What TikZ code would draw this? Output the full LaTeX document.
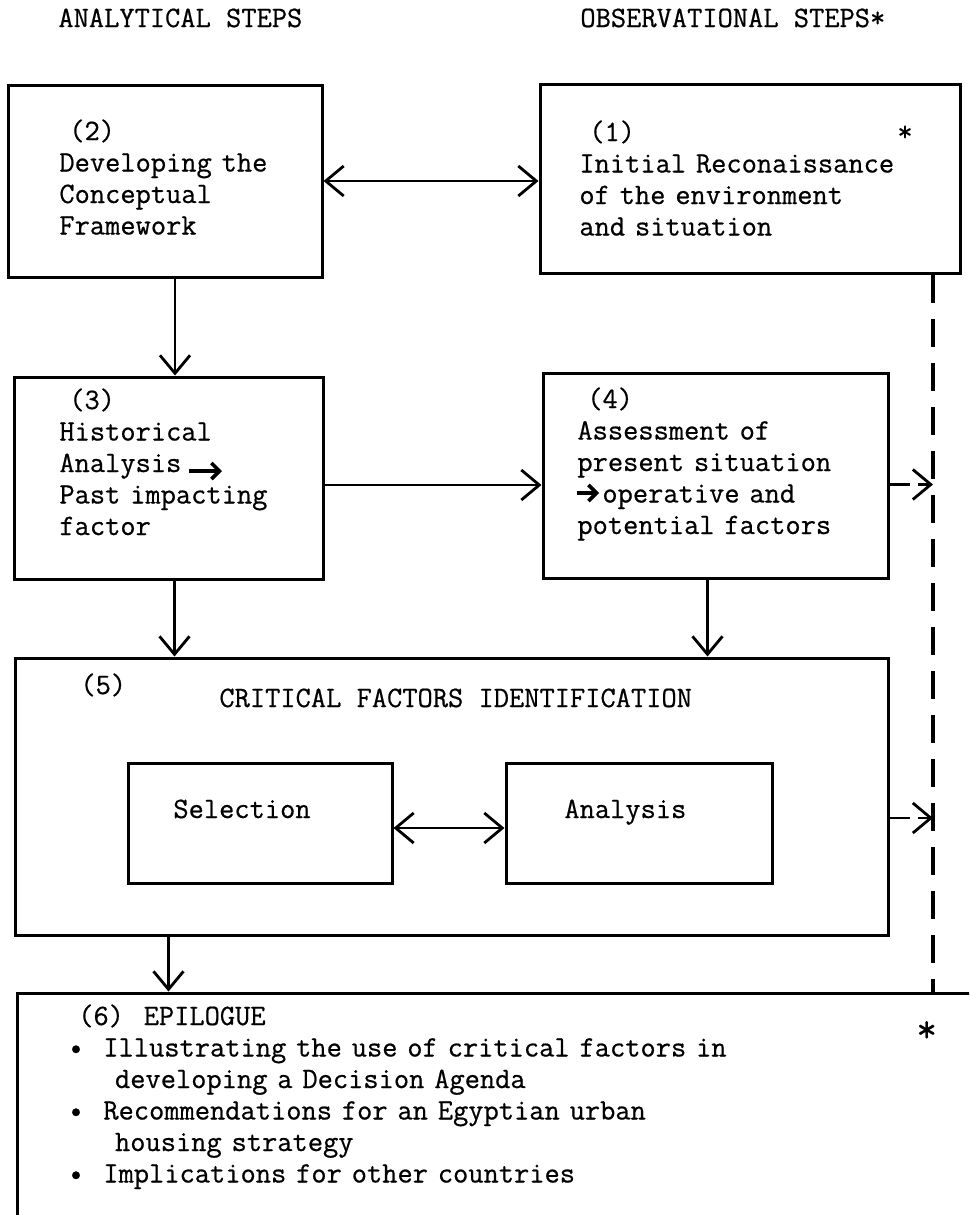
\documentclass[tikz,border=0pt]{standalone}
\usepackage{fontspec}
\newfontfamily\typer{Latin Modern Mono}[FakeBold=0.6]
\usetikzlibrary{arrows.meta,fit}

\begin{document}
\begin{tikzpicture}[x=0.5pt,y=-0.5pt,
	box/.style={draw,line width=1.5pt,inner sep=0pt},
	txt/.style={font={\typer\fontsize{14.8pt}{15.75pt}\selectfont},inner sep=0pt,anchor=base west},
	para/.style={txt,text width=#1,align=left},
	link/.style={line width=1.4pt,-{Straight Barb[length=9pt,width=15pt]}},
	both/.style={line width=1.4pt,{Straight Barb[length=9pt,width=15pt]}-{Straight Barb[length=9pt,width=15pt]}},
	handarrow/.style={line width=1.8pt,-{Straight Barb[length=4pt,width=8pt]}},
	rail/.style={line width=1.6pt,dash pattern=on 14pt off 8pt}]
	\useasboundingbox (0,0) rectangle (969,1215);
	\clip (0,0) rectangle (969,1215);
	\node[txt] (hdana) at (58,27) {ANALYTICAL STEPS};
	\node[txt] (hdobs) at (580,27) {OBSERVATIONAL STEPS*};
	\node[box,fit={(8,85) (322,277)}] (b2) {};
	\node[box,fit={(540,84) (960,273)}] (b1) {};
	\node[box,fit={(14,377) (323,579)}] (b3) {};
	\node[box,fit={(543,373) (888,578)}] (b4) {};
	\node[box,fit={(15,658) (888,935)}] (b5) {};
	\node[box,fit={(128,763) (392,883)}] (sel) {};
	\node[box,fit={(506,763) (772,883)}] (ana) {};
	\node[box,fit={(17,993) (1000,1300)}] (b6) {};
	\node[para=115pt] (t2) at (59,140) {~(2)\\Developing the\\Conceptual\\Framework};
	\node[para=168pt] (t1) at (579,141) {~(1)\\Initial Reconaissance\\of the environment\\and situation};
	\node[txt] (star1) at (897,141) {*};
	\node[para=115pt] (t3) at (59,409) {~(3)\\Historical\\Analysis\\Past impacting\\factor};
	\node[para=140pt] (t4) at (577,408) {~(4)\\Assessment of\\present situation\\\hspace*{12.5pt}operative and\\potential factors};
	\node[txt] (t5) at (80,694) {(5)};
	\node[txt] (t5b) at (219,707) {CRITICAL FACTORS IDENTIFICATION};
	\node[txt] (tsel) at (173,818) {Selection};
	\node[txt] (tana) at (564,818) {Analysis};
	\node[para=360pt] (t6) at (68,1025) {~(6)~~EPILOGUE\\
		•~~Illustrating the use of critical factors in\\
		\hspace*{1.575em}developing a Decision Agenda\\
		•~~Recommendations for an Egyptian urban\\
		\hspace*{1.575em}housing strategy\\
		•~~Implications for other countries};
	\node[txt,font={\typer\fontsize{20pt}{20pt}\selectfont\bfseries}] (star6) at (916,1042) {*};
	\coordinate (past1) at (189,471);
	\coordinate (past2) at (222,471);
	\coordinate (oper1) at (577,493);
	\coordinate (oper2) at (599,493);
	\coordinate (rail) at (933,0);
	\draw[handarrow] (past1) -- (past2);
	\draw[handarrow] (oper1) -- (oper2);
	\draw[both] (b2.east) -- (b2.east -| b1.west);
	\draw[link] ([xshift=5pt]b2.south) -- ([xshift=5pt]b2.south |- b3.north);
	\draw[link] ([yshift=-3.5pt]b3.east) -- ([yshift=-3.5pt]b3.east -| b4.west);
	\draw[link] ([xshift=3pt]b3.south) -- ([xshift=3pt]b3.south |- b5.north);
	\draw[link] ([xshift=-4pt]b4.south) -- ([xshift=-4pt]b4.south |- b5.north);
	\draw[both] ([yshift=-2.5pt]sel.east) -- ([yshift=-2.5pt]sel.east -| ana.west);
	\draw[link] (b5.south -| b3.south) -- (b6.north -| b3.south);
	\draw[rail] (b1.south -| rail) -- (b6.north -| rail);
	\draw[link,dash pattern=on 10pt off 4pt] ([yshift=-4.5pt]b4.east) -- ([yshift=-4.5pt]b4.east -| rail);
	\draw[link,dash pattern=on 10pt off 4pt] ([yshift=2.5pt]b5.east |- ana.east) -- ([yshift=2.5pt]ana.east -| rail);
\end{tikzpicture}
\end{document}
